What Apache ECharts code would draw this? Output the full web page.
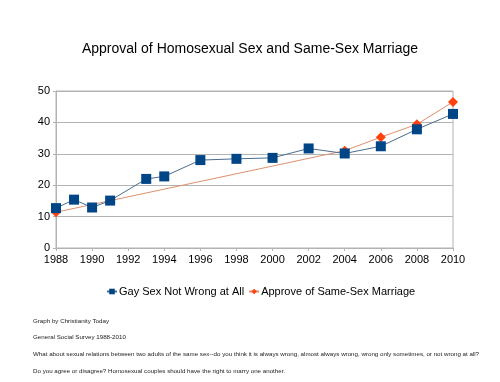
<!DOCTYPE html>
<html><head><meta charset="utf-8">
<script src="https://cdn.jsdelivr.net/npm/echarts@6/dist/echarts.min.js"></script>
<style>html,body{margin:0;padding:0;background:#fff}#c{width:500px;height:382px}</style>
</head><body><div id="c"></div>
<script>
const titleText = 'Approval of Homosexual Sex and Same-Sex Marriage';
const gayYears = [1988,1989,1990,1991,1993,1994,1996,1998,2000,2002,2004,2006,2008,2010];
const gayValues = [12.7,15.4,12.9,15.1,22.0,22.8,28.0,28.4,28.7,31.7,30.1,32.4,37.8,42.7];
const marriageYears = [1988,2004,2006,2008,2010];
const marriageValues = [11.4,31.0,35.3,39.4,46.5];
const seriesNames = ['Gay Sex Not Wrong at All','Approve of Same-Sex Marriage'];
const notes = [
 'Graph by Christianity Today',
 'General Social Survey 1988-2010',
 'What about sexual relations between two adults of the same sex--do you think it is always wrong, almost always wrong, wrong only sometimes, or not wrong at all?',
 'Do you agree or disagree? Homosexual couples should have the right to marry one another.'
];
const font = '"Liberation Sans", Arial, sans-serif';
const chart = echarts.init(document.getElementById('c'));
const noteY = [322, 338, 355, 372];
chart.setOption({
  animation:false,
  backgroundColor:'#fff',
  title:{text:titleText,left:'center',top:37,textStyle:{fontFamily:font,fontSize:14,fontWeight:'normal',color:'#000'}},
  grid:{left:56,right:47,top:91,bottom:134,show:true,borderColor:'#b3b3b3',borderWidth:1},
  legend:{bottom:80,left:101,itemWidth:10,itemHeight:7,itemGap:4,textStyle:{fontFamily:font,fontSize:11,color:'#000',padding:[0,0,0,-3]},
    data:seriesNames},
  xAxis:{type:'value',min:1988,max:2010,interval:2,
    axisLine:{lineStyle:{color:'#b3b3b3'}},axisTick:{show:true,length:3,lineStyle:{color:'#b3b3b3'}},
    splitLine:{show:false},
    axisLabel:{fontFamily:font,fontSize:11,color:'#000',margin:6,formatter:v=>String(v)}},
  yAxis:{type:'value',min:0,max:50,interval:10,
    axisLine:{show:true,lineStyle:{color:'#b3b3b3'}},axisTick:{show:true,length:3,lineStyle:{color:'#b3b3b3'}},
    splitLine:{lineStyle:{color:'#b3b3b3'}},
    axisLabel:{fontFamily:font,fontSize:11,color:'#000',margin:6}},
  graphic: notes.map((t,i)=>({type:'text',left:33,top:noteY[i]-4,style:{text:t,font:'6.2px '+font,fill:'#222'}})),
  series:[
    {name:seriesNames[0],type:'line',data:gayYears.map((y,i)=>[y,gayValues[i]]),
     symbol:'rect',symbolSize:10,itemStyle:{color:'#004586'},lineStyle:{color:'#4a6c8f',width:1},z:3},
    {name:seriesNames[1],type:'line',data:marriageYears.map((y,i)=>[y,marriageValues[i]]),
     symbol:'diamond',symbolSize:10,itemStyle:{color:'#ff420e'},lineStyle:{color:'#e0906e',width:1},z:2}
  ]
});
</script></body></html>
